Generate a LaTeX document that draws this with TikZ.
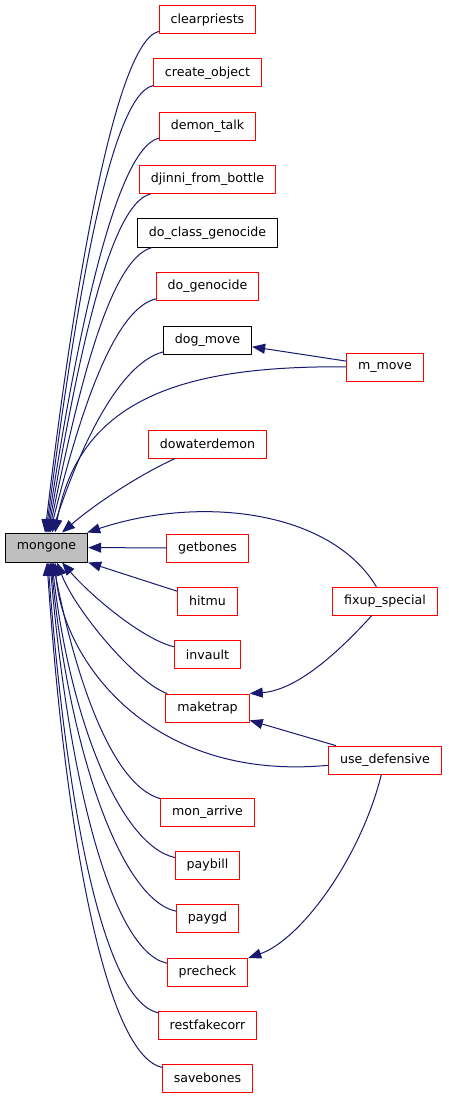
\documentclass[tikz,border=0pt]{standalone}
\usepackage{fontspec}
\setmainfont{DejaVu Sans}
\usetikzlibrary{arrows.meta}
\definecolor{edgeblue}{HTML}{191970}
\definecolor{boxred}{HTML}{FF0000}
\tikzset{
  fnnode/.style={rectangle,draw,line width=1pt,minimum height=28pt,inner xsep=11.5pt,inner ysep=0pt,font=\fontsize{12.6}{14}\selectfont},
  rednode/.style={fnnode,draw=boxred},
  blacknode/.style={fnnode,draw=black},
  rootnode/.style={fnnode,draw=black,fill=black!25,minimum height=29pt},
  every picture/.style={line cap=round,line join=round}
}
\begin{document}
\begin{tikzpicture}[x=1pt,y=-1pt,>={Triangle[length=13pt,width=10pt]},
  callarrow/.style={->,draw=edgeblue,line width=1pt}]
  \useasboundingbox (0,0) rectangle (448,1099);
  % called function
  \node[rootnode] (mongone) at (46.5,547.5) {mongone};
  % callers, left column
  \node[rednode] (clearpriests) at (207.5,20) {clearpriests};
  \node[rednode] (createobj) at (207.5,73) {create\_object};
  \node[rednode] (demontalk) at (207.5,126.5) {demon\_talk};
  \node[rednode] (djinni) at (207.5,179.5) {djinni\_from\_bottle};
  \node[blacknode] (classgeno) at (207.5,233) {do\_class\_genocide};
  \node[rednode] (genocide) at (207.5,286) {do\_genocide};
  \node[blacknode] (dogmove) at (207.5,340) {dog\_move};
  \node[rednode] (dowater) at (207.5,444) {dowaterdemon};
  \node[rednode] (getbones) at (207.5,548) {getbones};
  \node[rednode] (hitmu) at (207.5,601) {hitmu};
  \node[rednode] (invault) at (207.5,654.5) {invault};
  \node[rednode] (maketrap) at (207.5,708) {maketrap};
  \node[rednode] (monarrive) at (207.5,812) {mon\_arrive};
  \node[rednode] (paybill) at (207.5,865) {paybill};
  \node[rednode] (paygd) at (207.5,918) {paygd};
  \node[rednode] (precheck) at (207.5,972) {precheck};
  \node[rednode] (restfake) at (207.5,1025) {restfakecorr};
  \node[rednode] (savebones) at (207.5,1078) {savebones};
  % callers, right column
  \node[rednode] (mmove) at (385,367) {m\_move};
  \node[rednode] (fixup) at (385,601) {fixup\_special};
  \node[rednode] (usedef) at (385,760) {use\_defensive};
  % calls into mongone from above
  \draw[callarrow] (clearpriests) .. controls (114,42) and (72,302) .. ([xshift=-1.5pt]mongone.north);
  \draw[callarrow] (createobj) .. controls (108,96) and (73,326) .. ([xshift=-0.5pt]mongone.north);
  \draw[callarrow] (demontalk) .. controls (114,149) and (74,351) .. ([xshift=0.5pt]mongone.north);
  \draw[callarrow] (djinni) .. controls (107,205) and (75,377) .. ([xshift=1.5pt]mongone.north);
  \draw[callarrow] (classgeno) .. controls (108,259) and (76,401) .. ([xshift=2.5pt]mongone.north);
  \draw[callarrow] (genocide) .. controls (111,310) and (77,425) .. ([xshift=3.5pt]mongone.north);
  \draw[callarrow] (dogmove) .. controls (118,364) and (79,450) .. ([xshift=5.5pt]mongone.north);
  \draw[callarrow] (mmove) .. controls (200,366) and (80,390) .. ([xshift=8.5pt]mongone.north);
  \draw[callarrow] (dowater) .. controls (145,472) and (100,500) .. ([xshift=15.5pt]mongone.north);
  \draw[callarrow] (fixup) .. controls (330,510) and (200,495) .. ([xshift=-1pt]mongone.north east);
  % calls into mongone from the side and below
  \draw[callarrow] (getbones) -- (mongone);
  \draw[callarrow] (hitmu) -- (mongone.south east);
  \draw[callarrow] (invault) .. controls (145,640) and (95,600) .. ([xshift=15.5pt]mongone.south);
  \draw[callarrow] (maketrap) .. controls (135,682) and (75,610) .. ([xshift=10.5pt]mongone.south);
  \draw[callarrow] (usedef) .. controls (150,782) and (62,660) .. ([xshift=8.5pt]mongone.south);
  \draw[callarrow] (monarrive) .. controls (112,785) and (76,680) .. ([xshift=6.5pt]mongone.south);
  \draw[callarrow] (paybill) .. controls (120,845) and (70,719) .. ([xshift=5.5pt]mongone.south);
  \draw[callarrow] (paygd) .. controls (120,899) and (69,748) .. ([xshift=4.5pt]mongone.south);
  \draw[callarrow] (precheck) .. controls (111,951) and (68,776) .. ([xshift=3.5pt]mongone.south);
  \draw[callarrow] (restfake) .. controls (102,999) and (66,801) .. ([xshift=1.5pt]mongone.south);
  \draw[callarrow] (savebones) .. controls (105,1054) and (65,830) .. ([xshift=0.5pt]mongone.south);
  % other calls
  \draw[callarrow] (mmove) -- (dogmove);
  \draw[callarrow] (fixup) .. controls (345,645) and (300,690) .. (maketrap.north east);
  \draw[callarrow] (usedef) -- (maketrap);
  \draw[callarrow] (usedef) .. controls (360,860) and (300,940) .. (precheck);
\end{tikzpicture}
\end{document}
